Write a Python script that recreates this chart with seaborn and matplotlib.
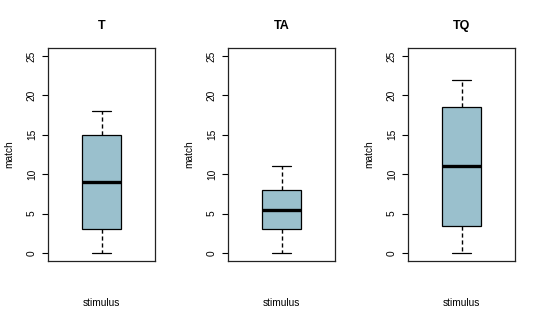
import matplotlib
matplotlib.use("Agg")
import matplotlib.pyplot as plt
import seaborn as sns
import pandas as pd

# Data (five-number summaries: min, Q1, median, Q3, max)
categories = ["T", "TA", "TQ"]
t_values = [0, 3, 9, 15, 18]
ta_values = [0, 3, 5.5, 8, 11]
tq_values = [0, 3.5, 11, 18.5, 22]
y_ticks = [0, 5, 10, 15, 20, 25]
x_label = "stimulus"
y_label = "match"

series = {"T": t_values, "TA": ta_values, "TQ": tq_values}

sns.set_theme(style="white")
plt.rcParams["font.family"] = ["Liberation Sans", "DejaVu Sans"]
plt.rcParams["text.color"] = "black"
plt.rcParams["axes.labelcolor"] = "black"

fig = plt.figure(figsize=(5.4, 3.22), dpi=100)
box_color = "#9AC0CD"

lefts = [48 / 540, 228 / 540, 408 / 540]
bottom = (322 - 261) / 322
width = 107 / 540
height = 213 / 322

for left, cat in zip(lefts, categories):
    ax = fig.add_axes([left, bottom, width, height])
    df = pd.DataFrame({"match": series[cat]})
    sns.boxplot(
        data=df, y="match", ax=ax, width=0.4, color=box_color,
        linecolor="black", linewidth=0.9, saturation=1, whis=1.5,
        showfliers=False,
        medianprops=dict(linewidth=2.4, color="black"),
        whiskerprops=dict(linestyle=(0, (3, 2)), linewidth=1.0),
        capprops=dict(linewidth=0.9),
        boxprops=dict(edgecolor="black"),
    )
    ax.set_xlim(-0.54, 0.54)
    ax.set_ylim(-1, 26)
    ax.set_yticks(y_ticks)
    ax.set_xticks([])
    ax.tick_params(axis="y", left=True, length=4, width=0.8, pad=4,
                   labelsize=7.3, labelrotation=90, color="black", labelcolor="black")
    for lbl in ax.get_yticklabels():
        lbl.set_va("center")
    for s in ax.spines.values():
        s.set_visible(True)
        s.set_color("#222222")
        s.set_linewidth(0.9)
    ax.set_title(cat, fontsize=9, fontweight="bold", pad=14, color="black")
    ax.set_ylabel(y_label, fontsize=7.3, labelpad=9)
    ax.set_xlabel(x_label, fontsize=7.3, labelpad=27)

fig.savefig("out.png", dpi=100, facecolor="white")
